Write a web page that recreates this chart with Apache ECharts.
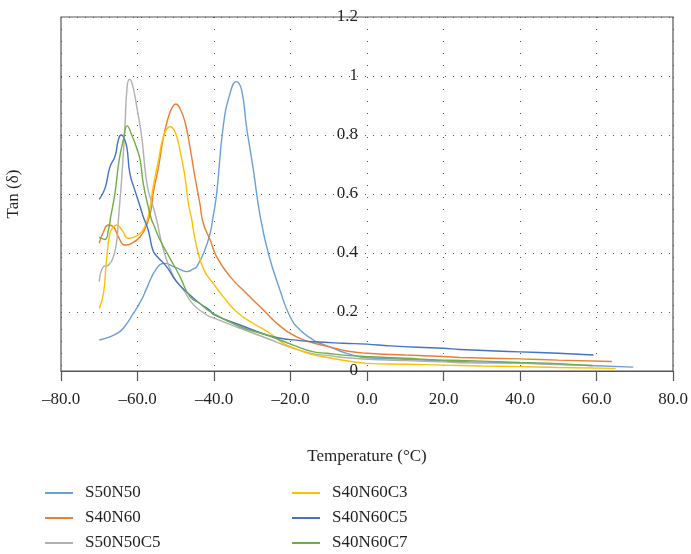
<!DOCTYPE html>
<html><head><meta charset="utf-8">
<script src="https://cdn.jsdelivr.net/npm/echarts@6/dist/echarts.min.js"></script>
<style>html,body{margin:0;padding:0;background:#fff}#c{width:691px;height:554px}</style>
</head><body><div id="c"></div>
<script>
const seriesNames = ['S50N50','S40N60','S50N50C5','S40N60C3','S40N60C5','S40N60C7'];
const seriesColors = ['#6a9fd8','#ed7d31','#b0b0b0','#ffc000','#4472c4','#70ad47'];
const xTicks = [-80,-60,-40,-20,0,20,40,60,80];
const yTicks = [0,0.2,0.4,0.6,0.8,1,1.2];

const S50N50 = [[-70,0.105],[-67.2,0.116],[-65,0.13],[-63.7,0.145],[-61.1,0.195],[-59,0.24],[-57.6,0.28],[-55,0.348],[-52.8,0.365],[-50.6,0.354],[-48.5,0.342],[-47.1,0.337],[-45.5,0.345],[-44.5,0.354],[-42.4,0.41],[-41,0.468],[-40.3,0.518],[-39.3,0.602],[-37.6,0.828],[-35.8,0.941],[-34.2,0.981],[-32.8,0.953],[-31.5,0.828],[-29.7,0.681],[-28,0.53],[-25.8,0.399],[-22.7,0.272],[-20.1,0.184],[-17.5,0.139],[-14,0.105],[-12.3,0.094],[-8.8,0.077],[-5.3,0.06],[0,0.045],[10,0.04],[20,0.034],[30,0.03],[40,0.027],[50,0.022],[60,0.018],[69.6,0.013]];
const S40N60 = [[-70,0.433],[-68.9,0.472],[-67.6,0.495],[-66.3,0.489],[-65,0.455],[-63.3,0.427],[-61.5,0.433],[-59.3,0.455],[-57.6,0.495],[-56.3,0.557],[-55.9,0.602],[-54.5,0.692],[-53.2,0.794],[-51.9,0.862],[-50.8,0.896],[-50,0.905],[-48.9,0.89],[-47.6,0.845],[-46.3,0.76],[-45,0.659],[-43.7,0.568],[-42.8,0.5],[-41,0.444],[-39.3,0.387],[-35.8,0.32],[-31.5,0.263],[-27.1,0.207],[-22.7,0.152],[-18.4,0.116],[-14,0.095],[-9.7,0.082],[-5.3,0.068],[0,0.06],[10,0.054],[20,0.049],[24.3,0.046],[40,0.041],[50,0.037],[64,0.032]];
const S50N50C5 = [[-70,0.303],[-68.9,0.354],[-67.6,0.359],[-66.3,0.387],[-65.4,0.444],[-65,0.512],[-64.1,0.659],[-63.3,0.828],[-62.7,0.964],[-62.1,0.989],[-61.3,0.969],[-60.2,0.896],[-58.9,0.794],[-58,0.681],[-57.2,0.613],[-55.9,0.557],[-55,0.512],[-53.2,0.41],[-50.6,0.32],[-48,0.275],[-45.4,0.225],[-41.9,0.19],[-41,0.184],[-33.2,0.145],[-26.2,0.111],[-19.3,0.077],[-14,0.058],[-10.5,0.053],[-5.3,0.045],[0,0.04],[10,0.035],[20,0.031],[24.3,0.028],[40,0.026],[50,0.023],[59,0.019]];
const S40N60C3 = [[-70,0.212],[-68.9,0.263],[-68.1,0.376],[-67.2,0.467],[-66.3,0.489],[-65.4,0.495],[-64.1,0.478],[-62.4,0.45],[-60.7,0.455],[-58.9,0.472],[-57.6,0.506],[-56.7,0.557],[-55.9,0.625],[-54.5,0.715],[-53.2,0.794],[-51.5,0.828],[-50.2,0.811],[-48.9,0.749],[-47.6,0.659],[-46.7,0.568],[-45.8,0.512],[-45.4,0.478],[-44.1,0.399],[-42.4,0.337],[-40.2,0.297],[-37.6,0.252],[-34.1,0.201],[-29.7,0.161],[-25.4,0.128],[-21.9,0.094],[-19.5,0.08],[-15,0.058],[-10,0.045],[-5,0.034],[0,0.026],[10,0.023],[20,0.02],[30,0.017],[40,0.015],[50,0.012],[65,0.009]];
const S40N60C5 = [[-70,0.582],[-68.5,0.619],[-67.2,0.692],[-65.9,0.727],[-65,0.783],[-64.3,0.8],[-63.7,0.794],[-62.8,0.76],[-62,0.67],[-60.7,0.613],[-59.3,0.557],[-58.5,0.523],[-57.2,0.478],[-56,0.41],[-55,0.39],[-52.4,0.354],[-49.8,0.303],[-46.3,0.258],[-43.7,0.229],[-41,0.205],[-40.2,0.192],[-33.2,0.156],[-26.2,0.122],[-22.7,0.111],[-17.5,0.103],[-14,0.099],[-6.2,0.094],[0,0.091],[6,0.085],[20,0.077],[24.3,0.073],[40,0.065],[50,0.06],[59.2,0.054]];
const S40N60C7 = [[-70,0.453],[-68.5,0.446],[-67.6,0.478],[-67,0.523],[-65.9,0.602],[-64.8,0.715],[-63.7,0.783],[-62.7,0.831],[-61.5,0.8],[-60.2,0.755],[-59.3,0.715],[-58.5,0.636],[-57.2,0.557],[-56.3,0.512],[-55.9,0.5],[-54.1,0.444],[-51.5,0.382],[-48.9,0.32],[-46.3,0.252],[-43.7,0.229],[-41,0.201],[-33.2,0.15],[-26.2,0.122],[-19.3,0.088],[-14,0.065],[-10.5,0.06],[-5.3,0.053],[0,0.049],[10,0.043],[20,0.037],[24.3,0.036],[40,0.029],[50,0.025],[59,0.018]];
const seriesData = [S50N50, S40N60, S50N50C5, S40N60C3, S40N60C5, S40N60C7];

const FONT = 'Liberation Serif';
const TXT = '#231f20';
const chart = echarts.init(document.getElementById('c'));
const legends = seriesNames.map((n, i) => ({
  orient: 'horizontal', left: i < 3 ? 45 : 292, top: 484 + 25 * (i % 3),
  itemWidth: 28, itemHeight: 2, icon: 'rect', padding: 0, data: [n],
  textStyle: {fontFamily: FONT, fontSize: 17, color: TXT, lineHeight: 18, padding: [0,0,0,7]}
}));
chart.setOption({
  animation: false,
  backgroundColor: '#fff',
  grid: {left: 61, right: 18, top: 17, bottom: 183, show: true, borderColor: '#555', borderWidth: 1.2,
         containLabel: false, outerBoundsMode: 'none'},
  legend: legends,
  xAxis: {
    type: 'value', min: xTicks[0], max: xTicks[xTicks.length-1], interval: 20,
    name: 'Temperature (°C)', nameLocation: 'middle', nameGap: 77,
    nameTextStyle: {fontFamily: FONT, fontSize: 17, color: TXT},
    axisLine: {onZero: false, lineStyle: {color: '#555', width: 1.2}},
    axisTick: {show: true, length: 10, inside: false, lineStyle: {color: '#555', width: 1.2}},
    axisLabel: {margin: 20, fontFamily: FONT, fontSize: 17, color: TXT,
      formatter: v => (v < 0 ? '\u2013' : '') + Math.abs(v).toFixed(1)},
    splitLine: {show: true, lineStyle: {color: '#555', type: [1, 11], width: 1}}
  },
  yAxis: {
    type: 'value', min: yTicks[0], max: yTicks[yTicks.length-1], interval: 0.2,
    name: 'Tan (\u03b4)', nameLocation: 'middle', nameGap: 39,
    nameTextStyle: {fontFamily: FONT, fontSize: 17, color: TXT},
    axisLine: {show: false, onZero: false},
    axisTick: {show: false},
    axisLabel: {margin: -297, fontFamily: FONT, fontSize: 17, color: TXT, align: 'right',
      formatter: v => String(Math.round(v*10)/10)},
    splitLine: {show: true, lineStyle: {color: '#555', type: [1, 7], width: 1}}
  },
  series: seriesNames.map((n, i) => ({
    name: n, type: 'line', data: seriesData[i], showSymbol: false, symbol: 'none',
    smooth: 0.5,
    lineStyle: {color: seriesColors[i], width: 1.4}, itemStyle: {color: seriesColors[i]}
  }))
});
</script></body></html>
